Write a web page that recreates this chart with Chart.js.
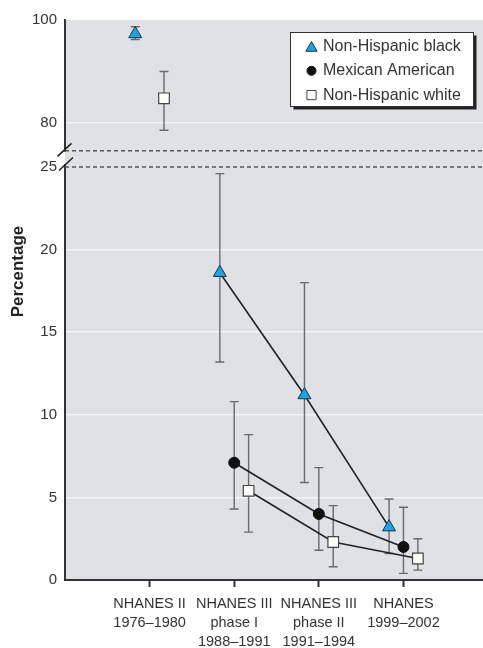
<!DOCTYPE html>
<html><head><meta charset="utf-8">
<script src="https://cdn.jsdelivr.net/npm/chart.js@4"></script>
<style>html,body{margin:0;padding:0;background:#fff;overflow:hidden}#wrap{position:relative;width:483px;height:648px}canvas{display:block}</style>
</head><body><div id="wrap"><canvas id="c" width="483" height="648"></canvas></div>
<script>
// ---- data ----
const categories = [["NHANES II","1976–1980"],["NHANES III","phase I","1988–1991"],["NHANES III","phase II","1991–1994"],["NHANES","1999–2002"]];
const seriesNames = ["Non-Hispanic black","Mexican American","Non-Hispanic white"];
const blackValues = [97.3, 18.6, 11.2, 3.2];
const blackLow    = [96.2, 13.2, 5.9, 1.6];
const blackHigh   = [98.7, 24.6, 18.0, 4.9];
const mexicanValues = [null, 7.1, 4.0, 2.0];
const mexicanLow    = [null, 4.3, 1.8, 0.4];
const mexicanHigh   = [null, 10.8, 6.8, 4.4];
const whiteValues = [84.8, 5.4, 2.3, 1.3];
const whiteLow    = [78.6, 2.9, 0.8, 0.6];
const whiteHigh   = [90.0, 8.8, 4.5, 2.5];
const lowerTicks = [0, 5, 10, 15, 20, 25];
const upperTicks = [80, 100];
const LOWER_MAX = 25;      // top of lower axis segment
const UPPER_BREAK = 74.6;  // bottom dashed line of upper axis segment

// ---- styles ----
const REG = '"Liberation Sans", Arial, sans-serif';
const OFFS = [-0.17, 0, 0.17];
const styles = [
  {pointStyle:'triangle', radius:7.5, bg:'#1ea3dc', border:'#1d3550', bw:1},
  {pointStyle:'circle', radius:5.5, bg:'#111', border:'#111', bw:1},
  {pointStyle:'rect', radius:7.5, bg:'#fff', border:'#444', bw:1.2}
];
const series = [
  [blackValues, blackLow, blackHigh],
  [mexicanValues, mexicanLow, mexicanHigh],
  [whiteValues, whiteLow, whiteHigh]
];

function pts(s, upper) {
  const [v, lo, hi] = series[s];
  const out = [];
  v.forEach((val, i) => {
    if (val == null) return;
    if ((val > LOWER_MAX) === upper) out.push({x: i + 1 + OFFS[s], y: val, lo: lo[i], hi: hi[i]});
  });
  return out;
}

const datasets = [];
series.forEach((_, s) => {
  const st = styles[s];
  const base = {pointStyle: st.pointStyle, pointRadius: st.radius, pointBackgroundColor: st.bg,
    pointBorderColor: st.border, pointBorderWidth: st.bw, borderColor: '#222', borderWidth: 1.6};
  datasets.push(Object.assign({label: seriesNames[s], data: pts(s, false), yAxisID: 'y', showLine: true}, base));
  const up = pts(s, true);
  if (up.length) datasets.push(Object.assign({label: seriesNames[s] + ' (upper)', data: up, yAxisID: 'yTop', showLine: false}, base));
});

const bgPlugin = {
  id: 'bg',
  beforeDraw(chart) {
    const {ctx, chartArea: a} = chart;
    ctx.save(); ctx.fillStyle = '#dfe1e4';
    ctx.fillRect(a.left, a.top, a.right - a.left, a.bottom - a.top);
    ctx.restore();
  },
  beforeDatasetsDraw(chart) {
    const {ctx, chartArea: a} = chart;
    const yb1 = chart.scales.yTop.getPixelForValue(UPPER_BREAK);
    const yb2 = chart.scales.y.getPixelForValue(LOWER_MAX);
    ctx.save();
    ctx.strokeStyle = '#555'; ctx.lineWidth = 1.5; ctx.setLineDash([4, 3]);
    [yb1, yb2].forEach(y => { ctx.beginPath(); ctx.moveTo(a.left, y); ctx.lineTo(a.right, y); ctx.stroke(); });
    ctx.setLineDash([]);
    // error bars
    ctx.strokeStyle = '#6a6a6a'; ctx.lineWidth = 1.4;
    chart.data.datasets.forEach((ds, di) => {
      const meta = chart.getDatasetMeta(di);
      const ys = chart.scales[ds.yAxisID];
      meta.data.forEach((el, i) => {
        const r = ds.data[i];
        const y1 = ys.getPixelForValue(r.lo), y2 = ys.getPixelForValue(r.hi);
        const x = el.x;
        ctx.beginPath();
        ctx.moveTo(x, y1); ctx.lineTo(x, y2);
        ctx.moveTo(x - 4.5, y1); ctx.lineTo(x + 4.5, y1);
        ctx.moveTo(x - 4.5, y2); ctx.lineTo(x + 4.5, y2);
        ctx.stroke();
      });
    });
    ctx.restore();
  },
  afterDraw(chart) {
    const {ctx, chartArea: a} = chart;
    const yb1 = chart.scales.yTop.getPixelForValue(UPPER_BREAK);
    const yb2 = chart.scales.y.getPixelForValue(LOWER_MAX);
    ctx.save();
    ctx.fillStyle = '#fff';
    ctx.fillRect(a.left - 2, yb1 + 1, 2, yb2 - yb1 - 4);
    ctx.fillStyle = '#dfe1e4';
    ctx.fillRect(a.left, yb1 + 1, 1.5, yb2 - yb1 - 4);
    ctx.strokeStyle = '#222'; ctx.lineWidth = 1.6;
    [[yb1 - 1, -0.5], [yb2 - 3, 1]].forEach(([y, dx]) => {
      ctx.beginPath(); ctx.moveTo(a.left - 7 + dx, y + 6.5); ctx.lineTo(a.left + 7 + dx, y - 6.5); ctx.stroke();
    });
    // y title
    ctx.translate(18.5, 271.5); ctx.rotate(-Math.PI / 2);
    ctx.font = 'bold 17px ' + REG; ctx.fillStyle = '#222';
    ctx.textAlign = 'center'; ctx.textBaseline = 'middle';
    ctx.fillText('Percentage', 0, 0);
    ctx.restore();
    // legend
    ctx.save();
    const lx = 290.5, ly = 32.5, lw = 183, lh = 74;
    ctx.fillStyle = '#222'; ctx.fillRect(lx + 3, ly + 3, lw, lh);
    ctx.fillStyle = '#fff'; ctx.fillRect(lx, ly, lw, lh);
    ctx.strokeStyle = '#333'; ctx.lineWidth = 1; ctx.strokeRect(lx, ly, lw, lh);
    const legendMarks = [
      {pointStyle:'triangle', radius:6.5, borderWidth:1},
      {pointStyle:'circle', radius:4.5, borderWidth:1},
      {pointStyle:'rect', radius:6.5, borderWidth:1}
    ];
    seriesNames.forEach((name, s) => {
      const y = 46.5 + s * 24.3;
      ctx.fillStyle = styles[s].bg; ctx.strokeStyle = styles[s].border; ctx.lineWidth = 1;
      Chart.helpers.drawPoint(ctx, Object.assign({rotation: 0}, legendMarks[s]), 311.5, y + (s === 0 ? 1.5 : 0));
      ctx.fillStyle = '#333'; ctx.font = '16px ' + REG;
      ctx.textAlign = 'left'; ctx.textBaseline = 'middle';
      ctx.fillText(name, 323, y);
    });
    ctx.restore();
  }
};

const zeroPad = s => { s.paddingLeft = 0; s.paddingRight = 0; };
const tickFont = {family: REG, size: 15};
new Chart(document.getElementById('c'), {
  type: 'scatter',
  data: {datasets},
  plugins: [bgPlugin],
  options: {
    responsive: false, animation: false, events: [],
    layout: {autoPadding: false, padding: {top: 20, left: 0, right: 0, bottom: 0}},
    plugins: {legend: {display: false}, tooltip: {enabled: false}},
    scales: {
      x: {
        type: 'linear', min: 0, max: 4.94,
        afterBuildTicks: s => { s.ticks = categories.map((c, i) => ({value: i + 1})); },
        ticks: {callback: v => categories[Math.round(v) - 1], font: {family: REG, size: 14.5, lineHeight: 1.3}, color: '#333',
          padding: 8, maxRotation: 0, autoSkip: false},
        grid: {drawOnChartArea: false, drawTicks: true, tickLength: 7, tickColor: '#333', tickWidth: 2},
        border: {color: '#333', width: 2},
        afterFit: s => { s.height = 68; zeroPad(s); }
      },
      y: {
        type: 'linear', position: 'left', stack: 'v', stackWeight: 413, min: 0, max: LOWER_MAX,
        afterBuildTicks: s => { s.ticks = lowerTicks.map(v => ({value: v})); },
        ticks: {font: tickFont, color: '#333', padding: 8},
        grid: {drawTicks: false, lineWidth: 1.5,
          color: c => (c.tick && (c.tick.value === 0 || c.tick.value === LOWER_MAX)) ? 'rgba(0,0,0,0)' : '#f3f4f5'},
        border: {color: '#333', width: 2},
        afterFit: s => { s.width = 65; }
      },
      yTop: {
        type: 'linear', position: 'left', stack: 'v', stackWeight: 147, min: 71.46, max: 100,
        afterBuildTicks: s => { s.ticks = upperTicks.map(v => ({value: v})); },
        ticks: {font: tickFont, color: '#333', padding: 8},
        grid: {drawTicks: false, lineWidth: 1.5,
          color: c => (c.tick && c.tick.value === 100) ? 'rgba(0,0,0,0)' : '#f3f4f5'},
        border: {color: '#333', width: 2},
        afterFit: s => { s.width = 65; }
      }
    }
  }
});
</script>
</body></html>
